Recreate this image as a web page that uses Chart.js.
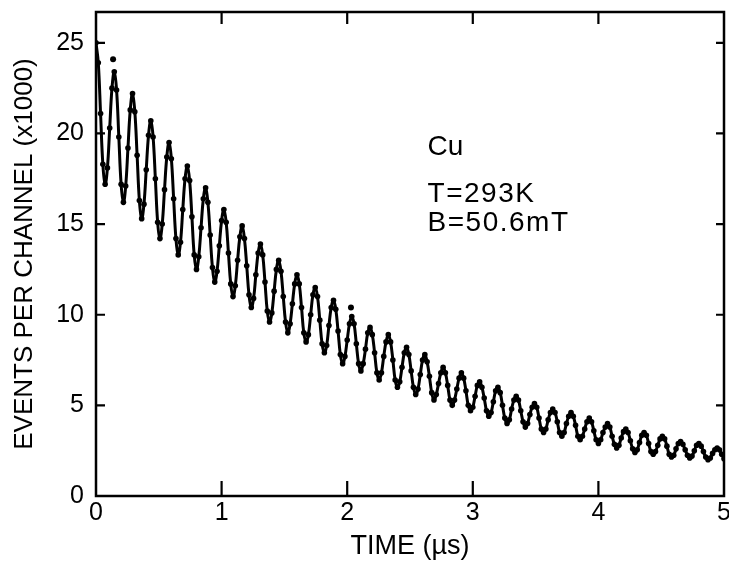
<!DOCTYPE html>
<html>
<head>
<meta charset="utf-8">
<script src="https://cdn.jsdelivr.net/npm/chart.js@4.4.1/dist/chart.umd.min.js"></script>
<style>
  body { margin: 0; background: #fff; }
  #wrap { width: 729px; height: 563px; }
</style>
</head>
<body>
<div id="wrap"><canvas id="chart"></canvas></div>
<script>
const timeTicks = [0, 1, 2, 3, 4, 5];
const countTicks = [0, 5, 10, 15, 20, 25];
const channelWidth = 5 / 275; // µs per channel

// events per channel, in thousands, one value per channel
const counts = [
  25.0, 23.9, 21.1, 18.3, 17.2, 18.1, 20.3, 22.5,
  23.4, 22.4, 19.8, 17.2, 16.2, 17.1, 19.2, 21.3,
  22.2, 21.2, 18.8, 16.3, 15.3, 16.1, 18.0, 19.9,
  20.7, 19.8, 17.5, 15.1, 14.2, 15.0, 16.9, 18.7,
  19.5, 18.6, 16.4, 14.2, 13.3, 14.0, 15.8, 17.5,
  18.2, 17.4, 15.4, 13.3, 12.5, 13.2, 14.8, 16.4,
  17.0, 16.2, 14.4, 12.6, 11.8, 12.4, 13.8, 15.2,
  15.8, 15.1, 13.4, 11.7, 11.0, 11.6, 13.0, 14.3,
  14.9, 14.2, 12.7, 11.1, 10.4, 10.9, 12.2, 13.4,
  13.9, 13.3, 11.8, 10.2, 9.6, 10.1, 11.3, 12.5,
  13.0, 12.4, 11.0, 9.6, 9.0, 9.5, 10.6, 11.7,
  12.2, 11.7, 10.4, 9.0, 8.5, 8.9, 10.0, 11.1,
  11.5, 11.0, 9.7, 8.4, 7.9, 8.3, 9.4, 10.4,
  10.8, 10.3, 9.1, 7.8, 7.3, 7.7, 8.6, 9.5,
  9.9, 9.5, 8.4, 7.3, 6.9, 7.3, 8.1, 9.0,
  9.3, 8.9, 7.9, 6.8, 6.4, 6.8, 7.7, 8.5,
  8.9, 8.5, 7.5, 6.4, 6.0, 6.3, 7.1, 7.9,
  8.2, 7.8, 6.9, 6.0, 5.6, 5.9, 6.7, 7.5,
  7.8, 7.4, 6.6, 5.7, 5.3, 5.6, 6.2, 6.8,
  7.1, 6.8, 6.1, 5.3, 5.0, 5.3, 5.9, 6.5,
  6.8, 6.5, 5.8, 5.0, 4.7, 4.9, 5.5, 6.1,
  6.3, 6.0, 5.4, 4.7, 4.4, 4.6, 5.2, 5.8,
  6.0, 5.7, 5.0, 4.3, 4.0, 4.2, 4.8, 5.3,
  5.5, 5.3, 4.7, 4.1, 3.8, 4.0, 4.5, 4.9,
  5.1, 4.9, 4.3, 3.7, 3.5, 3.7, 4.2, 4.6,
  4.8, 4.6, 4.1, 3.5, 3.3, 3.5, 4.0, 4.4,
  4.6, 4.4, 3.9, 3.3, 3.1, 3.3, 3.7, 4.1,
  4.3, 4.1, 3.6, 3.1, 2.9, 3.1, 3.5, 3.8,
  4.0, 3.8, 3.3, 2.85, 2.65, 2.8, 3.2, 3.55,
  3.7, 3.5, 3.05, 2.6, 2.4, 2.55, 2.95, 3.35,
  3.5, 3.35, 2.9, 2.45, 2.3, 2.45, 2.8, 3.15,
  3.3, 3.15, 2.75, 2.3, 2.15, 2.25, 2.6, 2.9,
  3.0, 2.85, 2.55, 2.25, 2.1, 2.2, 2.5, 2.8,
  2.9, 2.75, 2.45, 2.15, 2.0, 2.1, 2.35, 2.55,
  2.65, 2.55, 2.3, 2.05
];

// the two points that sit off the curve
const strayTimes = [0.136, 2.03];
const strayCounts = [24.1, 10.4];

const sampleInfo = ["Cu", "T=293K", "B=50.6mT"];

const FONT = "'Liberation Sans', Arial, Helvetica, sans-serif";

const points = counts.map((c, i) => ({ x: i * channelWidth, y: c }));
const strays = strayTimes.map((t, i) => ({ x: t, y: strayCounts[i] }));

const frame = {
  id: "frame",
  afterDraw(chart) {
    const { ctx, chartArea: a, scales } = chart;
    ctx.save();
    ctx.strokeStyle = "#000";
    ctx.lineWidth = 2.5;
    ctx.strokeRect(a.left, a.top, a.right - a.left, a.bottom - a.top);

    // inward tick marks
    ctx.lineWidth = 2.2;
    ctx.beginPath();
    timeTicks.slice(1, -1).forEach((t) => {
      const x = scales.x.getPixelForValue(t);
      ctx.moveTo(x, a.bottom);
      ctx.lineTo(x, a.bottom - 15);
      ctx.moveTo(x, a.top);
      ctx.lineTo(x, a.top + 12);
    });
    countTicks.slice(1).forEach((v) => {
      const y = scales.y.getPixelForValue(v);
      ctx.moveTo(a.left, y);
      ctx.lineTo(a.left + 9, y);
      ctx.moveTo(a.right, y);
      ctx.lineTo(a.right - 8, y);
    });
    ctx.stroke();

    ctx.fillStyle = "#000";
    ctx.font = "28px " + FONT;
    ctx.textBaseline = "alphabetic";
    const x = scales.x.getPixelForValue(2.64);
    [18.8, 16.2, 14.6].forEach((v, i) => {
      ctx.letterSpacing = i === 0 ? "0px" : "1.5px";
      ctx.fillText(sampleInfo[i], x, scales.y.getPixelForValue(v));
    });
    ctx.restore();
  },
};

new Chart(document.getElementById("chart"), {
  type: "line",
  data: {
    datasets: [
      {
        data: points,
        borderColor: "#000",
        borderWidth: 3,
        pointRadius: 2.8,
        pointBackgroundColor: "#000",
        pointBorderWidth: 0,
        tension: 0.4,
      },
      {
        data: strays,
        showLine: false,
        pointRadius: 3,
        pointBackgroundColor: "#000",
        pointBorderWidth: 0,
      },
    ],
  },
  options: {
    responsive: true,
    maintainAspectRatio: false,
    animation: false,
    layout: { padding: { top: 12, right: 5, left: 0, bottom: 0 } },
    plugins: {
      legend: { display: false },
      tooltip: { enabled: false },
    },
    scales: {
      x: {
        type: "linear",
        min: 0,
        max: 5,
        afterBuildTicks: (s) => {
          s.ticks = timeTicks.map((v) => ({ value: v }));
        },
        afterFit: (s) => {
          s.height = 67;
          s.paddingLeft = 0;
          s.paddingRight = 0;
        },
        grid: { display: false, drawTicks: false },
        border: { display: false },
        ticks: {
          color: "#000",
          font: { size: 25, family: FONT },
          padding: 2,
          maxRotation: 0,
          autoSkip: false,
        },
        title: {
          display: true,
          text: "TIME (µs)",
          color: "#000",
          font: { size: 27, family: FONT },
          padding: 0,
        },
      },
      y: {
        min: 0,
        max: 26.7,
        afterBuildTicks: (s) => {
          s.ticks = countTicks.map((v) => ({ value: v }));
        },
        afterFit: (s) => {
          s.width = 96;
          s.paddingTop = 0;
          s.paddingBottom = 0;
        },
        grid: { display: false, drawTicks: false },
        border: { display: false },
        ticks: {
          color: "#000",
          font: { size: 25, family: FONT },
          padding: 12,
        },
        title: {
          display: true,
          text: "EVENTS PER CHANNEL (x1000)",
          color: "#000",
          font: { size: 26, family: FONT },
          padding: { top: 9, bottom: 0 },
        },
      },
    },
  },
  plugins: [frame],
});
</script>
</body>
</html>
